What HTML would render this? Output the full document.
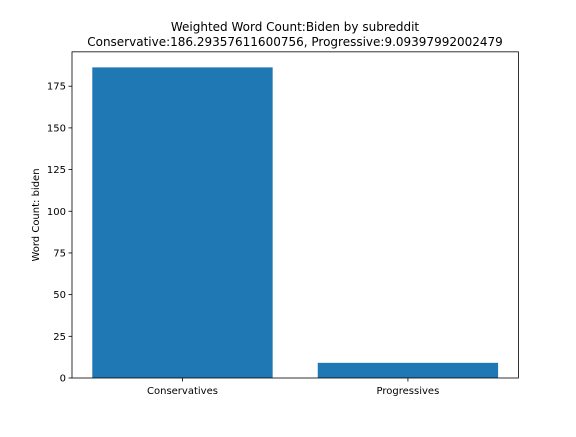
<!DOCTYPE html>
<html><head><meta charset="utf-8"><style>
body{margin:0;background:#fff;}
text{font-family:"DejaVu Sans","Liberation Sans",sans-serif;fill:#000;}
</style></head><body>
<svg id="chart" width="576" height="432" xmlns="http://www.w3.org/2000/svg">
<text x="295" y="31" font-size="12" text-anchor="middle">Weighted Word Count:Biden by subreddit</text>
<text x="295" y="46" font-size="12" text-anchor="middle">Conservative:186.29357611600756, Progressive:9.09397992002479</text>
<g id="plot"></g>
<text transform="translate(39,215) rotate(-90)" font-size="10" text-anchor="middle">Word Count: biden</text>
</svg>
<script>
const categories = ["Conservatives", "Progressives"];
const values = [186.29357611600756, 9.09397992002479];
const yTicks = [0, 25, 50, 75, 100, 125, 150, 175];
const L=72, R=518.4, T=51.84, B=378;
const yMax = Math.max(...values)*1.05;
const xMin = -0.49, xMax = categories.length - 1 + 0.49;
const xS = i => L + (i - xMin) / (xMax - xMin) * (R - L);
const yS = v => B - v / yMax * (B - T);
const ns="http://www.w3.org/2000/svg";
const g=document.getElementById('plot');
function mk(tag, attrs){const e=document.createElementNS(ns,tag);for(const k in attrs)e.setAttribute(k,attrs[k]);g.appendChild(e);return e;}
values.forEach((v,i)=>{
  const x0=xS(i-0.4), x1=xS(i+0.4);
  const r=mk('rect',{x:x0,y:yS(v),width:x1-x0,height:B-yS(v),fill:'#1f77b4'});
  
  
  mk('line',{x1:xS(i),x2:xS(i),y1:B,y2:B+3.5,stroke:'#000','stroke-width':0.8});
  const t=mk('text',{x:xS(i),y:B+16,'font-size':10,'text-anchor':'middle'});
  t.textContent=categories[i];
  
  
});
yTicks.forEach(v=>{
  mk('line',{x1:L-3.5,x2:L,y1:yS(v),y2:yS(v),stroke:'#000','stroke-width':0.8});
  const t=mk('text',{x:L-6,y:yS(v)+3.5,'font-size':10,'text-anchor':'end'});
  t.textContent=v;
  
  
});
const f=mk('rect',{x:L,y:T,width:R-L,height:B-T,fill:'none',stroke:'#000','stroke-width':0.8});


</script>
</body></html>
